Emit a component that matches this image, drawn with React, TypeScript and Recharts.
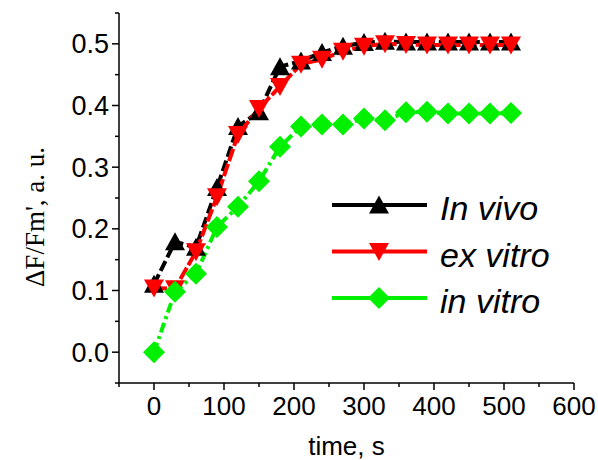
import { Legend, Line, LineChart, XAxis, YAxis, Label } from "recharts";

// sampling times, s
const times = [0, 30, 60, 90, 120, 150, 180, 210, 240, 270, 300, 330, 360, 390, 420, 450, 480, 510];

// ΔF/Fm' per condition
const inVivo = [0.11, 0.179, 0.17, 0.267, 0.366, 0.39, 0.463, 0.472, 0.486, 0.496, 0.502, 0.504, 0.503, 0.503, 0.503, 0.503, 0.503, 0.503];
const exVitro = [0.104, 0.103, 0.163, 0.252, 0.353, 0.395, 0.431, 0.467, 0.475, 0.488, 0.496, 0.5, 0.499, 0.498, 0.498, 0.498, 0.498, 0.498];
const inVitro = [0, 0.098, 0.127, 0.203, 0.236, 0.277, 0.333, 0.366, 0.369, 0.369, 0.379, 0.376, 0.389, 0.39, 0.387, 0.387, 0.387, 0.388];

// every 50 s / 0.05 gets a tick, labels only on the major ones
const xTicks = [-50, 0, 50, 100, 150, 200, 250, 300, 350, 400, 450, 500, 550, 600];
const yTicks = [-0.05, 0, 0.05, 0.1, 0.15, 0.2, 0.25, 0.3, 0.35, 0.4, 0.45, 0.5, 0.55];

const data = times.map((t, i) => ({
  t,
  inVivo: inVivo[i],
  exVitro: exVitro[i],
  inVitro: inVitro[i],
}));

const SANS = "'Liberation Sans', Arial, sans-serif";
const SERIF = "'Liberation Serif', 'Times New Roman', serif";

const triUp = (cx: number, cy: number, fill: string, key?: string | number) => (
  <polygon key={key} points={`${cx},${cy - 9.5} ${cx - 10},${cy + 8.5} ${cx + 10},${cy + 8.5}`} fill={fill} />
);
const triDown = (cx: number, cy: number, fill: string, key?: string | number) => (
  <polygon key={key} points={`${cx},${cy + 9.5} ${cx - 10},${cy - 8.5} ${cx + 10},${cy - 8.5}`} fill={fill} />
);
const diamond = (cx: number, cy: number, fill: string, key?: string | number) => (
  <polygon key={key} points={`${cx},${cy - 11} ${cx + 11},${cy} ${cx},${cy + 11} ${cx - 11},${cy}`} fill={fill} />
);

const series = [
  { key: "inVivo", name: "In vivo", color: "#000000", dash: "11 4", marker: triUp },
  { key: "exVitro", name: "ex vitro", color: "#ff0000", dash: "13 3", marker: triDown },
  { key: "inVitro", name: "in vitro", color: "#00f000", dash: "10 4 3 4", marker: diamond },
];

function XTick({ x, y, payload }: any) {
  const v = payload.value as number;
  const major = v % 100 === 0;
  return (
    <g>
      <line x1={x} x2={x} y1={y} y2={y + (major ? 7 : 4)} stroke="#000" strokeWidth={1.5} />
      {major && v >= 0 && (
        <text x={x} y={y + 32} textAnchor="middle" fontFamily={SANS} fontSize={26} fill="#000">
          {v}
        </text>
      )}
    </g>
  );
}

function YTick({ x, y, payload }: any) {
  const v = payload.value as number;
  const major = Math.abs(v * 10 - Math.round(v * 10)) < 1e-6;
  return (
    <g>
      <line x1={x} x2={x - (major ? 7 : 4)} y1={y} y2={y} stroke="#000" strokeWidth={1.5} />
      {major && v >= 0 && v <= 0.5 && (
        <text x={x - 10} y={y + 9.5} textAnchor="end" fontFamily={SANS} fontSize={27} fill="#000">
          {v.toFixed(1)}
        </text>
      )}
    </g>
  );
}

function LegendBox() {
  return (
    <svg width={270} height={150}>
      {series.map((s, i) => {
        const y = 35 + i * 46.5;
        return (
          <g key={s.key}>
            <line x1={12} x2={107} y1={y} y2={y} stroke={s.color} strokeWidth={4} />
            {s.marker(59, y, s.color)}
            <text x={120} y={y + 15} fontFamily={SANS} fontStyle="italic" fontSize={34} fill="#000">
              {s.name}
            </text>
          </g>
        );
      })}
    </svg>
  );
}

export default function App() {
  return (
    <div style={{ position: "absolute", left: 0, top: 0, background: "#fff" }}>
      <LineChart width={598} height={460} data={data} margin={{ top: 13, right: 24, bottom: 0, left: 0 }}>
        <XAxis
          dataKey="t"
          type="number"
          domain={[-50, 600]}
          ticks={xTicks}
          interval={0}
          height={77}
          tickSize={0}
          tickMargin={0}
          tick={<XTick />}
          axisLine={{ stroke: "#000", strokeWidth: 1.5 }}
        >
          <Label value="time, s" position="insideBottom" offset={5} fontFamily={SANS} fontSize={26} fill="#000" />
        </XAxis>
        <YAxis
          type="number"
          domain={[-0.05, 0.55]}
          ticks={yTicks}
          interval={0}
          width={119}
          tickSize={0}
          tickMargin={0}
          tick={<YTick />}
          axisLine={{ stroke: "#000", strokeWidth: 1.5 }}
        >
          <Label
            content={() => (
              <text
                x={35}
                y={217}
                transform="rotate(-90, 35, 217)"
                textAnchor="middle"
                dominantBaseline="central"
                fontFamily={SERIF}
                fontSize={27}
                fill="#000"
              >
                ΔF/Fm', a. u.
              </text>
            )}
          />
        </YAxis>
        <Legend
          layout="horizontal"
          verticalAlign="middle"
          align="center"
          wrapperStyle={{ left: 320, top: 170, width: 270, height: 150 }}
          content={() => <LegendBox />}
        />
        {series.map((s) => (
          <Line
            key={s.key}
            dataKey={s.key}
            name={s.name}
            type="linear"
            stroke={s.color}
            strokeWidth={4}
            strokeDasharray={s.dash}
            dot={(p: any) => s.marker(p.cx, p.cy, s.color, `${s.key}-${p.index}`)}
            activeDot={false}
            isAnimationActive={false}
          />
        ))}
      </LineChart>
    </div>
  );
}
